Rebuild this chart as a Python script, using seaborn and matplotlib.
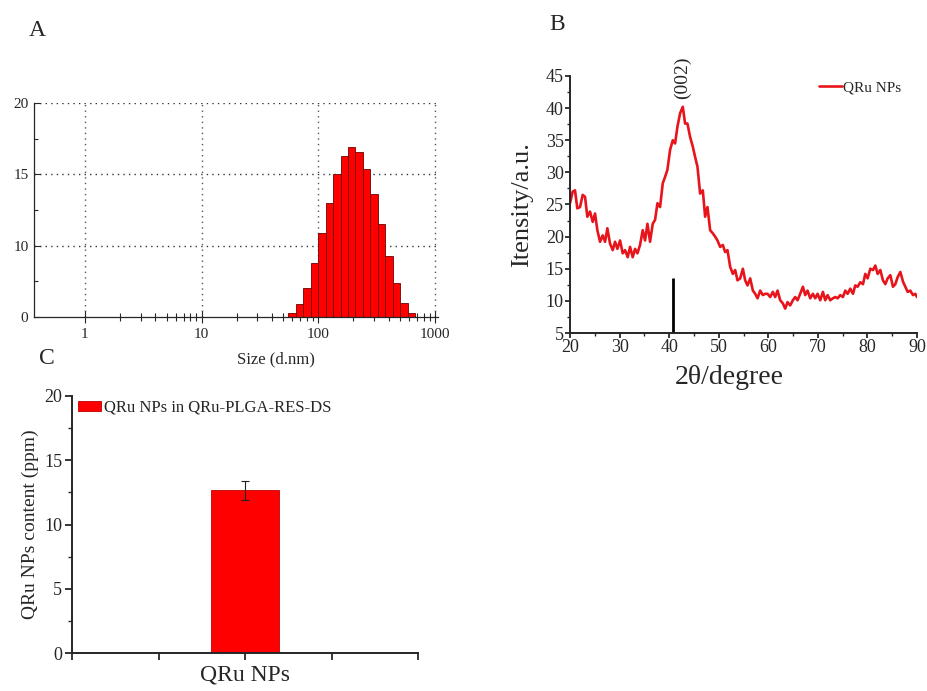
import numpy as np
import matplotlib
matplotlib.use("Agg")
import matplotlib.pyplot as plt
from matplotlib.ticker import FixedLocator, NullFormatter, MultipleLocator, FixedFormatter
from matplotlib.patches import Patch
import seaborn as sns

# ---------------- data ----------------
# A: DLS size distribution by intensity
size_bin_edges_nm = [55.3, 64.1, 74.3, 86.0, 99.7, 115.5, 133.8, 155.0, 179.6,
                     208.0, 241.0, 279.2, 323.4, 374.7, 434.1, 502.9, 582.6, 674.9]
size_intensity = [5.3, 5.9, 7.0, 8.8, 10.9, 13.0, 15.0, 16.3, 16.95,
                  16.6, 15.4, 13.6, 11.5, 9.3, 7.4, 6.0, 5.3]
size_yticks = [5, 10, 15, 20]
size_yticklabels = ["0", "10", "15", "20"]

# B: XRD pattern
two_theta = [20.0, 20.54, 21.01, 21.48, 22.02, 22.56, 23.03, 23.5, 24.04, 24.58,
             25.05, 25.52, 26.06, 26.6, 27.07, 27.54, 28.08, 28.62, 29.09, 29.56,
             30.1, 30.63, 31.11, 31.64, 32.12, 32.65, 33.12, 33.6, 34.13, 34.67,
             35.14, 35.62, 36.15, 36.69, 37.16, 37.64, 38.17, 38.71, 39.18, 39.65,
             40.19, 40.73, 41.2, 41.67, 42.21, 42.75, 43.22, 43.69, 44.23, 44.77,
             45.24, 45.71, 46.25, 46.79, 47.26, 47.73, 48.27, 48.81, 49.28, 49.75,
             50.29, 50.83, 51.3, 51.77, 52.31, 52.85, 53.32, 53.79, 54.33, 54.87,
             55.34, 55.81, 56.35, 56.89, 57.36, 57.83, 58.37, 58.9, 59.38, 59.85,
             60.39, 60.92, 61.39, 61.87, 62.4, 62.94, 63.41, 63.88, 64.42, 64.96,
             65.43, 65.9, 66.44, 66.98, 67.45, 67.92, 68.46, 69.0, 69.47, 69.94,
             70.48, 71.02, 71.49, 71.96, 72.5, 73.04, 73.51, 73.98, 74.52, 75.06,
             75.53, 76.0, 76.54, 77.08, 77.55, 78.02, 78.56, 79.1, 79.57, 80.04,
             80.58, 81.12, 81.59, 82.06, 82.6, 83.13, 83.61, 84.08, 84.62, 85.15,
             85.63, 86.1, 86.64, 87.17, 87.64, 88.12, 88.65, 89.19, 89.66, 90.0]
xrd_intensity = [25.2, 27.0, 27.2, 24.4, 24.6, 26.5, 26.2, 23.1, 23.9, 22.3,
                 23.6, 21.0, 19.2, 20.2, 19.2, 21.3, 18.9, 17.9, 19.2, 18.1,
                 19.4, 17.4, 17.9, 16.8, 18.4, 16.8, 18.1, 17.4, 18.7, 21.0,
                 19.4, 22.0, 19.2, 22.0, 22.6, 25.2, 24.6, 28.3, 29.3, 30.4,
                 33.5, 35.0, 34.5, 37.1, 39.2, 40.2, 37.6, 37.6, 35.5, 34.0,
                 32.4, 30.9, 26.7, 27.2, 23.1, 24.6, 21.0, 20.5, 20.0, 19.4,
                 18.4, 18.7, 17.6, 17.9, 15.3, 14.2, 14.8, 13.2, 13.5, 15.0,
                 13.2, 12.4, 13.5, 11.6, 11.1, 10.4, 11.6, 10.9, 11.1, 11.1,
                 10.6, 11.4, 10.6, 11.6, 10.1, 9.6, 8.8, 9.8, 9.3, 10.1,
                 10.6, 10.1, 11.1, 12.2, 10.9, 11.6, 10.4, 11.1, 10.4, 11.1,
                 10.1, 11.4, 10.1, 10.9, 10.1, 10.4, 10.6, 10.4, 10.9, 10.6,
                 11.6, 11.1, 11.9, 11.1, 12.4, 12.2, 12.9, 12.6, 14.2, 13.5,
                 15.0, 14.8, 15.5, 14.2, 14.8, 13.2, 12.6, 13.5, 14.0, 12.2,
                 12.6, 13.7, 14.5, 13.0, 12.2, 11.4, 11.6, 10.9, 11.1, 10.6]
ref_peak_position = [40.7]
ref_peak_height = [13.5]

# C: QRu NPs content
content_groups = ["QRu NPs"]
content_ppm = [12.65]
content_sd = [0.72]

# ---------------- style ----------------
sns.set_style("ticks")
plt.rcParams["font.family"] = ["Liberation Serif", "DejaVu Serif"]
plt.rcParams["mathtext.fontset"] = "stix"

RED = "#FF0000"
LINE_RED = "#E8141B"

W, H = 927, 691
fig = plt.figure(figsize=(W / 100, H / 100), dpi=100)


def box(left, top, right, bottom):
    return [left / W, 1 - bottom / H, (right - left) / W, (bottom - top) / H]


# ---------------- A ----------------
axA = fig.add_axes(box(34, 103, 438, 317))
edges = np.array(size_bin_edges_nm)
centers = np.sqrt(edges[:-1] * edges[1:])
log_bins = [float(v) for v in np.log10(edges)]
sns.histplot(x=centers, weights=size_intensity, bins=log_bins, log_scale=True,
             color=RED, edgecolor="#6E0000", linewidth=0.6, alpha=1.0, ax=axA)
axA.set_xlim(0.366, 1060)
axA.set_ylim(5, 20)
axA.set_yticks(size_yticks)
axA.set_yticklabels(size_yticklabels)
axA.yaxis.set_minor_locator(FixedLocator([7.5, 12.5, 17.5]))
axA.xaxis.set_major_locator(FixedLocator([1, 10, 100, 1000]))
axA.xaxis.set_major_formatter(FixedFormatter(["1", "10", "100", "1000"]))
minor = [m * 10.0 ** e for e in (0, 1, 2) for m in range(2, 10)]
axA.xaxis.set_minor_locator(FixedLocator(minor))
axA.xaxis.set_minor_formatter(NullFormatter())
for v in [10, 15, 20]:
    axA.axhline(v, color="#333333", lw=1.0, ls=(0, (1, 3)), zorder=0)
for v in [1, 10, 100, 1000]:
    axA.axvline(v, color="#555555", lw=1.0, ls=(0, (1, 3)), zorder=0)
axA.spines["top"].set_visible(False)
axA.spines["right"].set_visible(False)
axA.tick_params(axis="x", which="major", direction="inout", length=8, width=0.8,
                labelsize=11, pad=4)
axA.tick_params(axis="x", which="minor", direction="inout", length=6, width=0.8)
axA.tick_params(axis="y", which="major", direction="in", length=4, width=0.8,
                labelsize=11, pad=4)
axA.tick_params(axis="y", which="minor", direction="in", length=3, width=0.8)
axA.set_ylabel("")
axA.set_xlabel("Size (d.nm)", fontsize=12)
axA.xaxis.set_label_coords((276 - 34) / (438 - 34), -(351 - 317) / (317 - 103))
for s in ("left", "bottom"):
    axA.spines[s].set_linewidth(0.9)

# ---------------- B ----------------
axB = fig.add_axes(box(570, 76, 917, 333))
sns.lineplot(x=two_theta, y=xrd_intensity, color=LINE_RED, lw=1.9, sort=False,
             estimator=None, label="QRu NPs", ax=axB)
axB.vlines(ref_peak_position, 5, ref_peak_height, color="black", lw=2.0)
axB.text(42.6, 44.7, "(002)", rotation=90, ha="center", va="center", fontsize=14,
         clip_on=False)
axB.set_xlim(20, 90)
axB.set_ylim(5, 45)
axB.xaxis.set_major_locator(MultipleLocator(10))
axB.xaxis.set_minor_locator(MultipleLocator(5))
axB.yaxis.set_major_locator(MultipleLocator(5))
axB.yaxis.set_minor_locator(MultipleLocator(2.5))
axB.spines["top"].set_visible(False)
axB.spines["right"].set_visible(False)
for s in ("left", "bottom"):
    axB.spines[s].set_linewidth(1.4)
axB.tick_params(which="major", direction="out", length=3.5, width=1.3, labelsize=13,
                pad=1)
axB.tick_params(which="minor", direction="out", length=2.5, width=1.0)
axB.set_xlabel("2θ/degree", fontsize=20)
axB.xaxis.set_label_coords((729 - 570) / (917 - 570), -(365 - 333) / (333 - 76))
axB.set_ylabel("Itensity/a.u.", fontsize=19, labelpad=9)
axB.legend(loc="center left", bbox_to_anchor=(819 / W, 1 - 88 / H),
           bbox_transform=fig.transFigure, frameon=False, fontsize=11,
           handlelength=1.5, handletextpad=0.05, borderpad=0, borderaxespad=0)

# ---------------- C ----------------
axC = fig.add_axes(box(72, 396, 418, 653))
sns.barplot(x=content_groups, y=content_ppm, color=RED, width=0.39,
            edgecolor="#C00000", linewidth=0.6, saturation=1.0, ax=axC)
axC.errorbar(np.arange(len(content_groups)), content_ppm, yerr=content_sd,
             fmt="none", ecolor="#222222", elinewidth=0.8, capsize=3, capthick=0.8)
axC.set_xlim(-1, 1)
axC.set_ylim(0, 20)
axC.xaxis.set_major_locator(FixedLocator([-1, -0.5, 0, 0.5, 1]))
axC.xaxis.set_major_formatter(FixedFormatter(["", "", content_groups[0], "", ""]))
axC.yaxis.set_major_locator(MultipleLocator(5))
axC.yaxis.set_minor_locator(MultipleLocator(2.5))
axC.spines["top"].set_visible(False)
axC.spines["right"].set_visible(False)
for s in ("left", "bottom"):
    axC.spines[s].set_linewidth(1.4)
axC.tick_params(axis="x", which="major", direction="out", length=5, width=1.3,
                labelsize=17, pad=3)
axC.tick_params(axis="y", which="major", direction="out", length=5, width=1.3,
                labelsize=13, pad=2)
axC.tick_params(axis="y", which="minor", direction="out", length=3, width=1.0)
axC.set_xlabel("")
axC.set_ylabel("QRu NPs content (ppm)", fontsize=14, labelpad=4)
axC.legend(handles=[Patch(facecolor=RED, edgecolor="#C00000", lw=0.6)],
           labels=["QRu NPs in QRu-PLGA-RES-DS"], loc="center left",
           bbox_to_anchor=(78 / W, 1 - 408 / H), bbox_transform=fig.transFigure,
           frameon=False, fontsize=12, handlelength=1.4, handleheight=0.55,
           handletextpad=0.15, borderpad=0, borderaxespad=0)

# ---------------- panel letters ----------------
fig.text(37 / W, 1 - 31 / H, "A", fontsize=17, ha="center", va="center")
fig.text(557 / W, 1 - 24 / H, "B", fontsize=17, ha="center", va="center")
fig.text(47 / W, 1 - 358 / H, "C", fontsize=17, ha="center", va="center")

fig.savefig("out.png", dpi=100)
